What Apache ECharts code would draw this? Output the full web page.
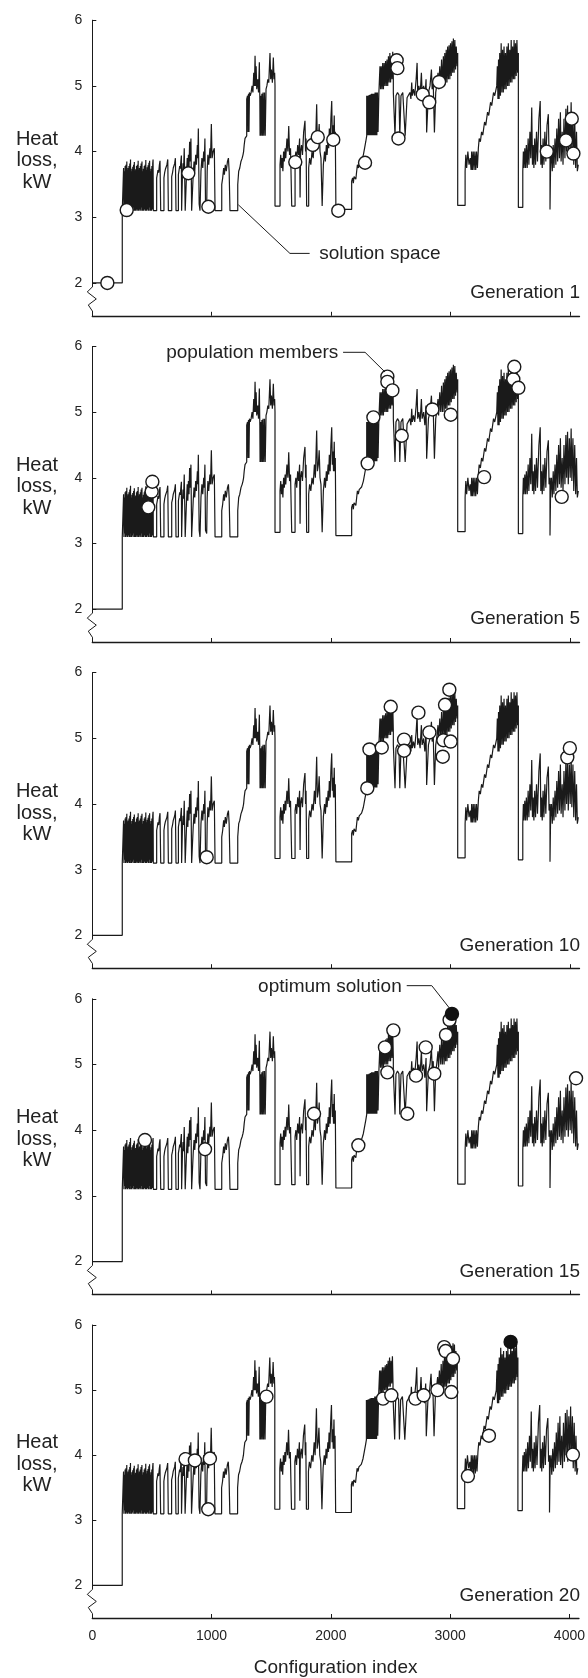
<!DOCTYPE html>
<html>
<head>
<meta charset="utf-8">
<script src="https://cdn.jsdelivr.net/npm/echarts@6/dist/echarts.min.js"></script>
<style>
html,body{margin:0;padding:0;background:#fff}
#main{width:588px;height:1678px}
</style>
</head>
<body>
<div id="main"></div>
<script>
// panel titles and ticks
var generations = ['Generation 1', 'Generation 5', 'Generation 10', 'Generation 15', 'Generation 20'];
var xTicks = [0, 1000, 2000, 3000, 4000];
var yTicks = [2, 3, 4, 5, 6];

// solution space (configuration index, heat loss kW)
var spaceLow = [[0,2.0],[251,2.0],[251,3.1],
  [260,3.1],[262,3.75],[265,3.1],[268,3.7],[271,3.15],[275,3.78],[278,3.1],[282,3.8],[286,3.12],[289,3.85],[291,3.1],
  [294,3.72],[297,3.1],[300,3.75],[304,3.12],[307,3.78],[311,3.1],[314,3.82],[318,3.15],[320,3.88],[322,3.1],
  [325,3.7],[328,3.1],[332,3.74],[335,3.12],[339,3.77],[342,3.1],[346,3.8],[349,3.15],[352,3.84],[354,3.1],
  [357,3.7],[360,3.1],[363,3.73],[367,3.1],[370,3.78],[374,3.12],[377,3.8],[381,3.1],[384,3.86],[386,3.1],
  [389,3.72],[392,3.1],[395,3.75],[399,3.12],[402,3.78],[406,3.1],[409,3.82],[413,3.15],[416,3.85],[418,3.1],
  [421,3.7],[424,3.1],[428,3.74],[431,3.1],[435,3.78],[438,3.12],[442,3.8],[445,3.1],[448,3.87],[450,3.1],
  [453,3.72],[456,3.1],[460,3.76],[463,3.12],[467,3.79],[470,3.1],[474,3.83],[477,3.15],[480,3.86],[482,3.1],
  [485,3.7],[488,3.1],[492,3.74],[495,3.1],[499,3.78],[502,3.12],[506,3.82],[509,3.88],[511,3.1],
  [539,3.1],[539,3.6],[545,3.66],[550,3.72],[556,3.68],[562,3.8],[567,3.86],[573,3.1],
  [600,3.1],[600,3.6],[606,3.68],[612,3.73],[618,3.7],[625,3.8],[632,3.88],[637,3.1],
  [665,3.1],[665,3.62],[672,3.68],[678,3.75],[684,3.72],[690,3.82],[696,3.9],[701,3.1],
  [721,3.1],[721,3.65],[727,3.72],[732,3.78],[737,3.74],[742,3.86],[746,3.94],[748,3.1],
  [755,3.1],[755,3.65],[760,3.82],[764,3.68],[770,4.05],[774,3.6],[778,3.1],
  [790,3.1],[790,3.7],[795,3.9],[800,3.65],[805,3.95],[810,3.75],[815,4.15],[820,3.85],[826,4.2],[832,3.1],
  [845,3.1],[845,3.65],[852,3.85],[858,3.7],[866,3.95],[872,3.8],[880,4.1],[884,3.9],[888,4.35],[895,3.2],[902,3.1],
  [910,3.1],[910,3.7],[918,3.9],[925,3.75],[933,4.0],[938,3.85],[943,4.2],[948,3.2],[958,3.15],
  [962,3.15],[962,3.7],[968,3.95],[975,3.8],[985,4.05],[990,3.9],[997,4.42],[1003,3.9],[1012,4.0],[1022,4.05],[1028,3.1],
  [1084,3.1],[1084,3.5],[1092,3.6],[1100,3.75],[1106,3.65],[1114,3.8],[1122,3.7],[1132,3.85],[1140,3.9],[1146,3.7],[1153,3.1],
  [1218,3.1],[1218,3.5],[1226,3.7],[1235,3.75],[1245,3.85],[1255,3.9],[1262,3.95],[1267,4.0],[1272,4.1],[1279,4.2],[1286,4.22],[1293,4.24]];

var spaceBlockA = [[1293,4.8],[1300,4.85],[1304,4.3],[1308,4.88],[1312,4.3],[1316,4.9],[1322,4.85],[1330,4.9],[1338,5.0],
  [1345,4.9],[1352,5.2],[1358,5.0],[1363,5.46],[1368,5.0],[1372,5.3],[1377,4.95],[1385,5.1],[1392,4.9],[1399,5.36],
  [1403,4.8],[1405,4.24],[1410,4.85],[1414,4.24],[1420,4.88],[1425,4.24],[1430,4.9],[1436,4.24],[1442,4.9],[1448,4.24],
  [1455,4.95],[1462,5.0],[1470,5.1],[1478,5.05],[1488,5.5],[1494,5.1],[1500,5.25],[1508,5.05],[1516,5.43],[1522,5.1],
  [1527,5.2],[1530,5.0],[1530,3.17]];

var spaceMid = [[1572,3.17],[1572,3.8],[1578,3.95],[1584,3.75],[1590,3.9],[1596,3.7],[1602,4.0],[1608,3.85],[1615,4.05],
  [1620,3.9],[1630,4.2],[1638,4.0],[1645,4.39],[1652,3.95],[1660,4.05],[1670,3.17],
  [1698,3.17],[1698,3.9],[1705,4.0],[1712,3.85],[1720,4.1],[1728,3.95],[1736,4.2],[1740,3.3],[1744,4.0],[1752,4.1],
  [1760,3.95],[1770,4.3],[1781,4.47],[1786,4.0],[1790,4.2],[1795,3.17],
  [1812,3.17],[1812,3.75],[1820,3.9],[1830,3.8],[1840,4.0],[1850,3.9],[1860,4.2],[1868,4.0],[1879,4.72],[1885,4.1],
  [1893,4.2],[1900,4.42],[1907,4.0],[1915,3.9],[1925,3.17],
  [1935,3.17],[1935,3.8],[1945,4.0],[1952,3.85],[1960,4.1],[1966,3.95],[1975,4.2],[1980,4.05],[1985,4.35],[1992,4.1],
  [1998,4.5],[2005,4.77],[2010,4.2],[2015,4.4],[2020,4.1],[2026,4.55],[2030,4.1],[2035,4.3],[2040,3.12],
  [2172,3.12],[2172,3.55],[2180,3.6],[2186,3.52],[2192,3.62],[2200,3.65],[2207,3.58],[2214,3.7],[2220,3.8],[2228,3.75],
  [2235,3.82],[2245,3.8],[2255,3.86],[2262,3.9],[2270,3.95],[2280,4.05],[2290,4.15],[2298,4.24]];

var spaceBlockB = [[2298,4.85],[2303,4.25],[2308,4.85],[2313,4.25],[2318,4.86],[2323,4.25],[2328,4.87],[2333,4.25],
  [2338,4.88],[2343,4.25],[2348,4.88],[2353,4.25],[2358,4.88],[2363,4.25],[2368,4.9],[2373,4.25],[2378,4.9],[2383,4.25],
  [2388,4.9],[2393,4.3],[2400,4.9],[2409,4.92],[2409,5.3],[2414,4.95],[2420,5.3],[2426,4.95],[2432,5.35],[2438,4.95],
  [2444,5.35],[2450,5.0],[2456,5.38],[2462,5.0],[2468,5.4],[2474,5.0],[2480,5.45],[2486,5.05],[2492,5.5],[2498,5.05],
  [2504,5.45],[2510,5.1],[2516,5.52],[2521,5.1],[2521,4.9],
  [2528,4.88],[2535,4.24],[2541,4.24],[2543,4.85],[2556,4.9],[2568,4.86],[2575,4.24],[2583,4.24],[2585,4.85],[2600,4.9],
  [2612,4.88],[2620,4.24],[2633,4.24],[2636,4.82],[2650,4.85],
  [2660,4.9],[2668,4.8],[2675,5.05],[2680,4.85],[2690,4.95],[2700,4.85],[2712,5.1],[2720,5.35],[2725,4.9],[2735,5.0],
  [2745,4.85],[2756,5.2],[2762,4.9],[2775,5.0],[2785,4.8],[2795,5.1],[2800,4.29],[2810,4.29],[2815,4.9],[2828,5.0],
  [2840,5.25],[2846,4.95],[2855,5.05],[2865,4.29],[2872,4.29],[2876,4.9],
  [2884,5.0],[2895,5.2],[2900,4.95],[2910,5.3],[2918,5.0],[2925,5.4],[2932,5.0],[2940,5.45],[2946,5.0],[2952,5.5],
  [2958,5.05],[2964,5.55],[2970,5.05],[2976,5.6],[2982,5.1],[2988,5.62],[2994,5.1],[3000,5.65],[3006,5.15],[3012,5.68],
  [3018,5.2],[3024,5.72],[3030,5.2],[3036,5.7],[3042,5.25],[3048,5.6],[3055,5.3],[3060,5.5],[3060,3.18]];

var spaceRight = [[3122,3.18],[3122,3.7],[3128,3.95],[3135,3.75],[3145,4.0],[3155,3.8],[3165,3.9],[3172,3.72],[3177,4.0],
  [3183,3.72],[3190,4.0],[3197,3.72],[3204,4.0],[3211,3.72],[3218,4.0],[3225,3.75],[3233,4.05],[3240,4.2],[3250,4.15],
  [3260,4.3],[3270,4.25],[3285,4.45],[3295,4.4],[3310,4.6],[3320,4.55],[3335,4.75],[3345,4.7],[3360,4.9],[3370,4.85],[3387,5.0],
  [3392,5.3],[3397,4.8],[3402,5.4],[3407,4.8],[3412,5.5],[3418,4.85],[3424,5.65],[3430,4.9],[3436,5.55],[3442,4.9],
  [3448,5.6],[3454,4.95],[3460,5.5],[3466,4.95],[3472,5.6],[3478,5.0],[3484,5.65],[3490,5.0],[3496,5.55],[3502,5.05],
  [3508,5.7],[3514,5.05],[3520,5.6],[3526,5.1],[3532,5.7],[3538,5.1],[3544,5.65],[3550,5.15],[3556,5.7],[3562,5.2],
  [3568,5.5],[3568,3.15],
  [3605,3.15],[3605,3.7],[3610,4.0],[3615,3.75],[3622,4.05],[3628,3.75],[3635,4.1],[3642,3.75],[3650,4.2],[3656,3.8],
  [3665,4.3],[3672,3.9],[3680,4.67],[3686,3.8],[3692,4.1],[3698,3.75],[3705,4.2],[3712,3.8],[3720,4.3],[3728,3.85],
  [3740,4.5],[3751,4.77],[3756,3.8],[3762,4.1],[3768,3.75],[3775,4.2],[3782,3.8],[3790,4.3],[3798,3.85],[3808,4.4],
  [3819,4.57],[3825,3.9],[3833,4.0],[3833,3.12],[3838,3.8],[3845,4.0],[3852,3.7],[3860,4.1],[3866,3.75],[3875,4.2],
  [3882,3.8],[3890,4.35],[3897,3.85],[3905,4.5],[3912,3.9],[3920,4.6],[3926,3.85],[3935,4.3],[3942,3.8],[3950,4.5],
  [3958,3.9],[3966,4.65],[3972,4.0],[3980,4.7],[3986,3.9],[3995,4.6],[4002,4.0],[4010,4.75],[4016,3.95],[4025,4.6],
  [4032,3.8],[4040,4.5],[4048,3.75],[4055,4.3],[4062,3.7],[4070,3.8]];

// population members per generation
var gen1 = [[126,2.0],[288,3.11],[804,3.67],[972,3.16],[1700,3.84],[1846,4.1],[1888,4.22],[2018,4.18],[2060,3.1],
  [2284,3.83],[2549,5.39],[2555,5.27],[2564,4.2],[2767,4.87],[2822,4.75],[2904,5.06],[3806,4.0],[3967,4.17],[4015,4.5],[4029,3.97]];
var gen5 = [[469,3.55],[497,3.79],[503,3.94],[2306,4.22],[2354,4.92],[2471,5.54],[2471,5.46],[2513,5.33],[2591,4.64],
  [2848,5.04],[3002,4.96],[3281,4.01],[3526,5.5],[3534,5.69],[3568,5.37],[3931,3.71]];
var gen10 = [[958,3.19],[2303,4.24],[2321,4.83],[2424,4.86],[2499,5.48],[2611,4.98],[2611,4.81],[2731,5.39],[2823,5.09],
  [2935,4.72],[2940,4.97],[2954,5.51],[2990,5.74],[3001,4.95],[3978,4.71],[3999,4.85]];
var gen15 = [[441,3.85],[944,3.71],[1857,4.25],[2228,3.77],[2451,5.26],[2471,4.88],[2521,5.52],[2638,4.25],[2711,4.83],
  [2792,5.26],[2864,4.86],[2962,5.45],[2992,5.68],[4051,4.79]];
var gen20 = [[782,3.94],[860,3.92],[972,3.17],[986,3.95],[1460,4.9],[2437,4.87],[2507,4.92],[2709,4.87],[2778,4.92],
  [2893,5.0],[2950,5.66],[2962,5.6],[3010,4.97],[3024,5.48],[3149,3.68],[3325,4.3],[4029,4.01]];
var optimum15 = [[3012,5.77]];
var optimum20 = [[3507,5.74]];

// callouts: panel, text, leader points, text anchor
var notes = [
  {panel:0, text:'solution space', line:[[1223,3.19],[1655,2.45],[1820,2.45]], at:[1900,2.45], align:'left'},
  {panel:1, text:'population members', line:[[2100,5.91],[2284,5.91],[2451,5.61]], at:[2060,5.91], align:'right'},
  {panel:3, text:'optimum solution', line:[[2633,6.2],[2843,6.2],[2990,5.86]], at:[2591,6.19], align:'right'}
];

var LEFT = 92.3, PLOT_W = 487.2, TOP0 = 20.2, PITCH = 326.2, PLOT_H = 295.6;
var FONT = '"Liberation Sans", Arial, Helvetica, sans-serif';
var INK = '#1a1a1a';

var spaceLine = [].concat(spaceLow, spaceBlockA, spaceMid, spaceBlockB, spaceRight);
var members = [gen1, gen5, gen10, gen15, gen20];
var best = [[], [], [], optimum15, optimum20];

var myChart = echarts.init(document.getElementById('main'));

var grids = [], xAxes = [], yAxes = [], series = [];
for (var k = 0; k < 5; k++) {
  grids.push({left: LEFT, top: TOP0 + PITCH * k, width: PLOT_W, height: PLOT_H});
  xAxes.push({
    type: 'value', gridIndex: k, min: 0, max: 4080,
    axisLine: {show: true, onZero: false, lineStyle: {color: INK, width: 1.3}},
    axisTick: {show: true, inside: true, length: 4, customValues: xTicks, lineStyle: {color: INK}},
    axisLabel: {show: k == 4, customValues: xTicks, color: '#222', fontSize: 14, margin: 11, fontFamily: FONT,
      formatter: function (v) { return String(v); }},
    splitLine: {show: false},
    name: k == 4 ? 'Configuration index' : '',
    nameLocation: 'middle', nameGap: 40,
    nameTextStyle: {fontSize: 19, color: '#222', fontFamily: FONT}
  });
  yAxes.push({
    type: 'value', gridIndex: k, min: 1.5, max: 6,
    axisLine: {show: true, onZero: false, lineStyle: {color: INK, width: 1}},
    axisTick: {show: true, inside: true, length: 4, customValues: yTicks, lineStyle: {color: INK}},
    axisLabel: {customValues: yTicks, color: '#222', fontSize: 14, margin: 10, fontFamily: FONT},
    splitLine: {show: false}
  });
  series.push({
    type: 'line', xAxisIndex: k, yAxisIndex: k, data: spaceLine,
    symbol: 'none', showSymbol: false, silent: true, z: 2,
    lineStyle: {color: INK, width: 1.2}
  });
  series.push({
    type: 'scatter', xAxisIndex: k, yAxisIndex: k, data: members[k],
    symbol: 'circle', symbolSize: 13, z: 3,
    itemStyle: {color: '#fff', borderColor: INK, borderWidth: 1.4, opacity: 1}
  });
  if (best[k].length) {
    series.push({
      type: 'scatter', xAxisIndex: k, yAxisIndex: k, data: best[k],
      symbol: 'circle', symbolSize: 13, z: 4,
      itemStyle: {color: '#111', borderColor: '#111', borderWidth: 1.4, opacity: 1}
    });
  }
}

myChart.setOption({
  animation: false,
  backgroundColor: '#fff',
  grid: grids,
  xAxis: xAxes,
  yAxis: yAxes,
  series: series
});

// labels, axis breaks and callouts placed from data coordinates
var gfx = [];
for (var k = 0; k < 5; k++) {
  var p2 = myChart.convertToPixel({gridIndex: k}, [0, 2]);
  var x0 = p2[0], y2 = p2[1];
  gfx.push({type: 'rect', z: 50, shape: {x: x0 - 2.5, y: y2 + 4, width: 5, height: 24}, style: {fill: '#fff'}});
  gfx.push({type: 'polyline', z: 51, shape: {points: [[x0, y2 + 4], [x0 - 5, y2 + 9], [x0 + 4, y2 + 16], [x0 - 4, y2 + 22], [x0, y2 + 28]]},
    style: {stroke: INK, lineWidth: 1, fill: null}});
  var pt = myChart.convertToPixel({gridIndex: k}, [0, 3.86]);
  gfx.push({type: 'text', z: 60, x: 37, y: pt[1],
    style: {text: 'Heat\nloss,\nkW', font: '20px ' + FONT, fill: '#222', lineHeight: 21.5,
      align: 'center', verticalAlign: 'middle', textAlign: 'center', textVerticalAlign: 'middle'}});
  gfx.push({type: 'text', z: 60, x: 580, y: y2 + 10,
    style: {text: generations[k], font: '19px ' + FONT, fill: '#222',
      align: 'right', verticalAlign: 'middle', textAlign: 'right', textVerticalAlign: 'middle'}});
}
notes.forEach(function (n) {
  var pts = n.line.map(function (p) { return myChart.convertToPixel({gridIndex: n.panel}, p); });
  gfx.push({type: 'polyline', z: 55, shape: {points: pts}, style: {stroke: INK, lineWidth: 1, fill: null}});
  var at = myChart.convertToPixel({gridIndex: n.panel}, n.at);
  gfx.push({type: 'text', z: 60, x: at[0], y: at[1],
    style: {text: n.text, font: '19px ' + FONT, fill: '#222',
      align: n.align, verticalAlign: 'middle', textAlign: n.align, textVerticalAlign: 'middle'}});
});
myChart.setOption({graphic: {elements: gfx}});
</script>
</body>
</html>
